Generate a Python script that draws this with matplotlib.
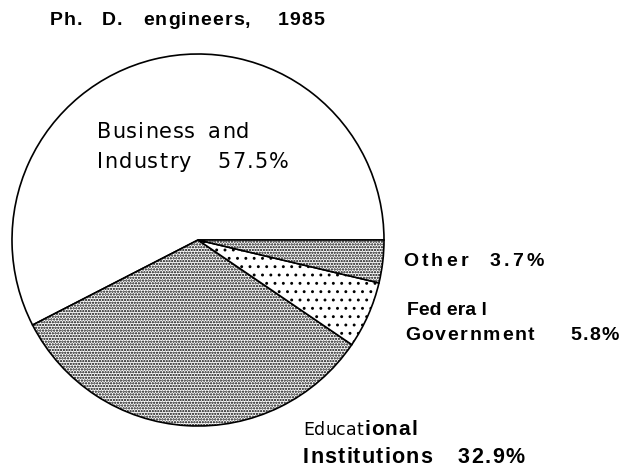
import numpy as np
import matplotlib.pyplot as plt

# Ph.D. engineers by sector, 1985 (percent)
sectors = ["Business and Industry", "Educational Institutions", "Federal Government", "Other"]
shares = [57.5, 32.9, 5.8, 3.7]
hatches = ["", "......", "..", "......"]
hatch_lw = [0.7, 1.1, 0.9, 1.1]

W, H = 626, 469
plt.rcParams['hatch.linewidth'] = 1.0
fig = plt.figure(figsize=(W / 100, H / 100), dpi=100)
ax = fig.add_axes([0, 0, 1, 1])

wedges, _ = ax.pie(shares, startangle=0, counterclock=True,
                   center=(198, H - 240), radius=186, frame=True,
                   colors=["white"] * 4,
                   wedgeprops=dict(edgecolor="black", linewidth=1.2))
for w, h, lw in zip(wedges, hatches, hatch_lw):
    w.set_hatch(h)
    try:
        w.set_hatch_linewidth(lw)
    except AttributeError:
        pass

ax.set_xlim(0, W)
ax.set_ylim(0, H)
ax.set_aspect("equal")
ax.axis("off")

r = fig.canvas.get_renderer()
bold = dict(family="Liberation Sans", fontweight="bold", color="black", va="baseline")
light = dict(family="DejaVu Sans", color="black", va="baseline")


def spaced(x, y, s, track, **kw):
    # letter-spaced text, one glyph at a time (x, y in pixels from top-left)
    for ch in s:
        if ch == " ":
            x += kw["fontsize"] * 0.4
            continue
        t = ax.text(x, H - y, ch, **kw)
        x += t.get_window_extent(r).width + track
    return x


# title
spaced(50, 25, "Ph.", 1.0, fontsize=14, **bold)
spaced(102, 25, "D.", 1.0, fontsize=14, **bold)
spaced(143, 25, "engineers,", 1.1, fontsize=14, **bold)
spaced(278, 25, "1985", 1.0, fontsize=14, **bold)

# business and industry
spaced(97, 138, "Business  and", 0.9, fontsize=15, **light)
spaced(97, 168, "Industry", 1.2, fontsize=15, **light)
spaced(217, 168, "57.5%", 1.5, fontsize=15, **light)

# other
spaced(403, 266, "Other", 3.2, fontsize=14, **bold)
spaced(490, 266, "3.7%", 3.0, fontsize=14, **bold)

# federal government
ax.text(407, H - 315, "Fed era l", fontsize=14, **bold)
spaced(405, 340, "Government", 1.6, fontsize=14, **bold)
spaced(570, 340, "5.8%", 1.5, fontsize=14, **bold)

# educational institutions
x_end = spaced(303, 435, "Educat", 0.0, fontsize=12.5, **light)
spaced(x_end + 1, 435, "ional", 1.0, fontsize=15, **bold)
spaced(303, 463, "Institutions", 1.2, fontsize=15.5, **bold)
spaced(458, 463, "32.9%", 1.5, fontsize=15.5, **bold)

fig.savefig("out.png", dpi=100)
